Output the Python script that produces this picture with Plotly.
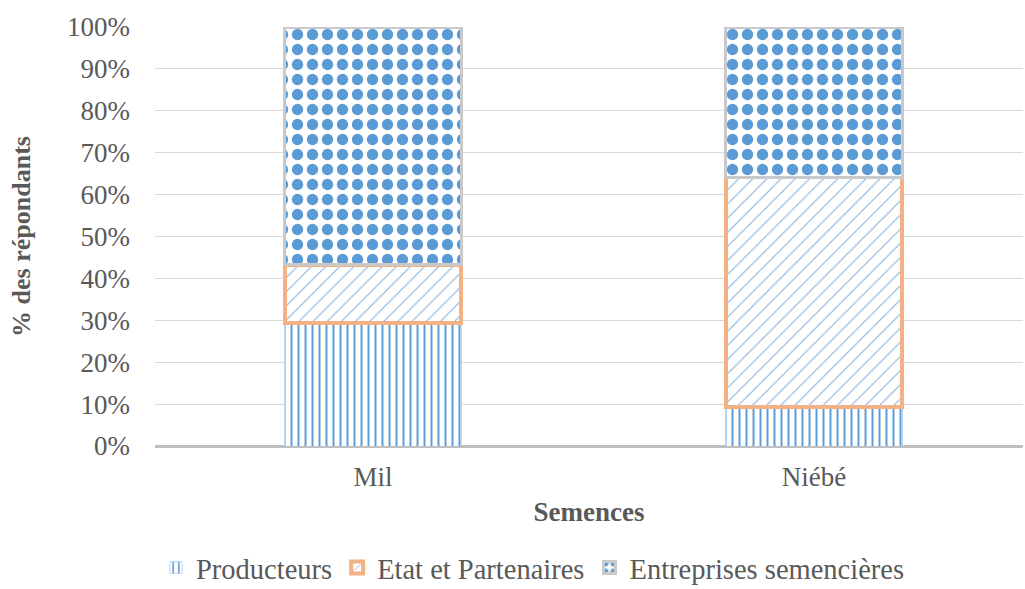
import plotly.graph_objects as go

categories = ["Mil", "Niébé"]
producteurs = [29.3, 9.3]
etat = [13.9, 54.9]
entreprises = [56.8, 35.8]
series_names = ["Producteurs", "Etat et Partenaires", "Entreprises semencières"]
tick_vals = [0, 10, 20, 30, 40, 50, 60, 70, 80, 90, 100]
tick_text = [f"{v}%" for v in tick_vals]

blue = "#5b9bd5"
orange = "#f4b183"
font_family = "Liberation Serif, Times New Roman, serif"

fig = go.Figure()
fig.add_trace(go.Bar(
    x=categories, y=producteurs, name=series_names[0], width=0.4,
    marker=dict(color="white", line=dict(color="#bdd7ee", width=1),
                pattern=dict(shape="|", fgcolor=blue, fgopacity=1, bgcolor="white", size=7, solidity=0.28)),
))
fig.add_trace(go.Bar(
    x=categories, y=etat, name=series_names[1], width=0.4,
    marker=dict(color="white", line=dict(color=orange, width=4),
                pattern=dict(shape="/", fgcolor="#7eb0df", fgopacity=1, bgcolor="white", size=10, solidity=0.1)),
))
fig.add_trace(go.Bar(
    x=categories, y=entreprises, name=series_names[2], width=0.4,
    marker=dict(color="white", line=dict(color="#c9c9c9", width=3),
                pattern=dict(shape=".", fgcolor=blue, fgopacity=1, bgcolor="white", size=15, solidity=0.45)),
))

fig.update_layout(
    barmode="stack",
    width=1025, height=589,
    margin=dict(l=155, r=2, t=27, b=143, autoexpand=False),
    paper_bgcolor="white", plot_bgcolor="white",
    font=dict(family=font_family, color="#595959", size=26),
    legend=dict(orientation="h", x=0.52, xanchor="center", xref="container",
                y=-0.352, yanchor="bottom", yref="paper",
                font=dict(size=28.5, color="#595959"), traceorder="normal",
                itemwidth=30, tracegroupgap=0),
    showlegend=True,
)
fig.update_xaxes(
    range=[-0.494, 1.474],
    title=dict(text="<b>Semences</b>", font=dict(size=27, color="#595959"), standoff=11),
    showgrid=False, showline=False, ticks="", tickfont=dict(size=27),
    ticklabelstandoff=12, automargin=False,
)
fig.update_yaxes(
    range=[0, 100], tickvals=tick_vals, ticktext=tick_text,
    tickfont=dict(size=27),
    showgrid=True, gridcolor="#d9d9d9", gridwidth=1,
    zeroline=True, zerolinecolor="#bfbfbf", zerolinewidth=3,
    ticks="", ticklabelstandoff=24, automargin=False,
    title=dict(text="<b>% des répondants</b>", font=dict(size=26, color="#595959"), standoff=28),
)
fig.write_html("out.html")
